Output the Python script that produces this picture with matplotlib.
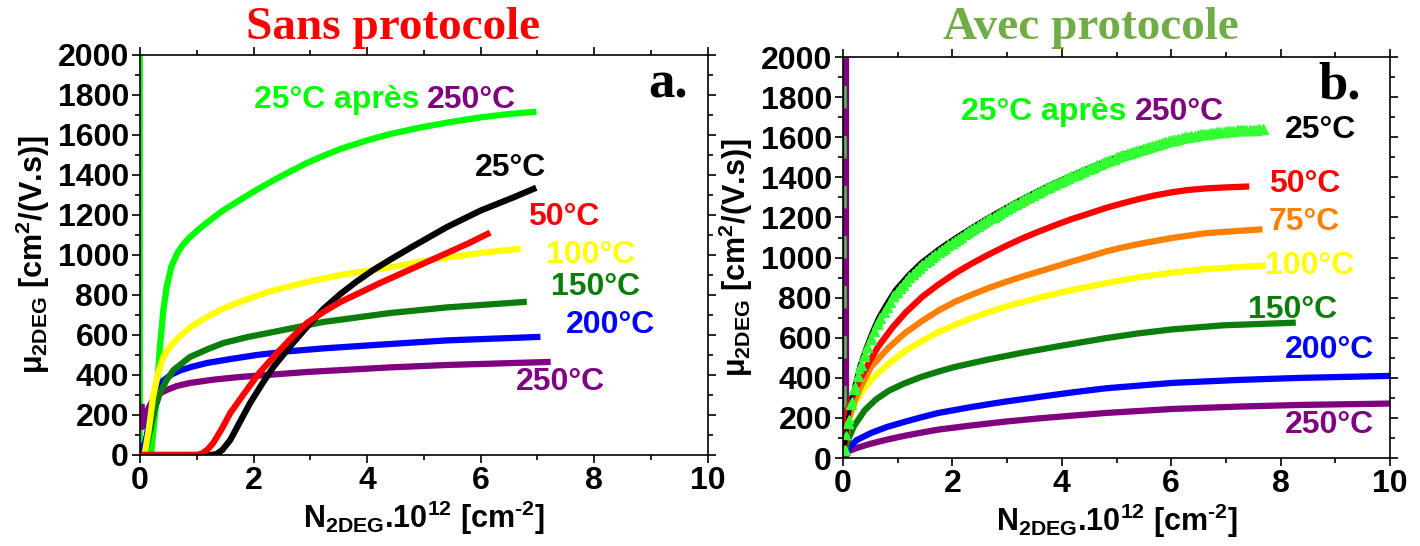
import numpy as np
import matplotlib
matplotlib.use("Agg")
import matplotlib.pyplot as plt
from matplotlib.ticker import MultipleLocator

plt.rcParams['font.family'] = ['Liberation Sans', 'DejaVu Sans']
plt.rcParams['font.weight'] = 'bold'
plt.rcParams['axes.labelweight'] = 'bold'
plt.rcParams['mathtext.fontset'] = 'custom'
plt.rcParams['mathtext.rm'] = 'Liberation Sans:bold'
plt.rcParams['mathtext.bf'] = 'Liberation Sans:bold'
plt.rcParams['mathtext.it'] = 'Liberation Sans:bold'
plt.rcParams['mathtext.default'] = 'bf'

# ---- panel a : sans protocole ----
a_vert_x = [0.02, 0.02]
a_vert_y = [0, 2000]
a_green_x = [0.1, 0.2, 0.28, 0.35, 0.41, 0.47, 0.55, 0.65, 0.75, 0.88, 1.0, 1.18, 1.45, 1.76, 2.05, 2.35,
             2.65, 2.94, 3.25, 3.53, 4.0, 4.41, 4.9, 5.41, 6.0, 6.5, 6.93]
a_green_y = [0, 20, 250, 540, 720, 840, 940, 1005, 1050, 1090, 1120, 1162, 1220, 1275, 1325, 1373,
             1418, 1460, 1498, 1530, 1573, 1605, 1635, 1662, 1688, 1705, 1715]
a_black_x = [0.1, 1.25, 1.35, 1.45, 1.59, 1.75, 1.94, 2.15, 2.35, 2.65, 2.94, 3.23, 3.53, 3.82, 4.11,
             4.41, 4.82, 5.41, 6.0, 6.58, 6.93]
a_black_y = [0, 0, 5, 25, 75, 160, 260, 355, 440, 545, 640, 730, 805, 868, 925,
             977, 1045, 1140, 1222, 1288, 1330]
a_red_x = [0.03, 1.0, 1.1, 1.2, 1.29, 1.45, 1.59, 1.88, 2.1, 2.35, 2.65, 2.94, 3.23, 3.53, 3.9, 4.23,
           4.82, 5.41, 5.8, 6.12]
a_red_y = [0, 0, 8, 30, 60, 135, 210, 325, 410, 490, 580, 660, 715, 765, 815, 860,
           935, 1010, 1060, 1105]
a_yellow_x = [0.08, 0.15, 0.23, 0.32, 0.41, 0.55, 0.71, 0.9, 1.18, 1.45, 1.76, 2.05, 2.35, 2.94, 3.53,
              4.41, 5.11, 6.0, 6.65]
a_yellow_y = [0, 120, 290, 410, 490, 550, 595, 642, 690, 730, 765, 795, 823, 865, 900,
              938, 975, 1010, 1030]
a_dgreen_x = [0.08, 0.18, 0.26, 0.35, 0.47, 0.59, 0.88, 1.2, 1.47, 1.9, 2.35, 3.23, 4.41, 5.41, 6.76]
a_dgreen_y = [0, 125, 230, 310, 375, 425, 490, 530, 560, 590, 615, 665, 710, 738, 765]
a_blue_x = [0.02, 0.06, 0.12, 0.18, 0.23, 0.3, 0.41, 0.55, 0.71, 0.9, 1.18, 1.6, 2.06, 2.6, 3.23,
            4.41, 5.41, 7.0]
a_blue_y = [40, 20, 100, 200, 275, 330, 372, 402, 423, 440, 460, 480, 500, 518, 533,
            555, 573, 590]
a_purple_x = [0.03, 0.04, 0.08, 0.15, 0.23, 0.33, 0.47, 0.65, 0.88, 1.3, 1.76, 2.94, 4.41, 5.41, 7.18]
a_purple_y = [240, 140, 170, 235, 275, 305, 325, 345, 360, 377, 390, 415, 438, 450, 465]

# ---- panel b : avec protocole ----
b_vert_x = [0.05, 0.05]
b_vert_y = [0, 2000]
b_black_x = [0.03, 0.06, 0.1, 0.16, 0.22, 0.3, 0.4, 0.52, 0.64, 0.8, 0.95, 1.2, 1.43, 1.75, 2.05, 2.35,
             2.66, 3.0, 3.27, 3.58, 3.89, 4.18, 4.5, 4.8, 5.1, 5.41, 5.7, 6.02, 6.3, 6.64, 7.0, 7.3]
b_black_y = [50, 130, 210, 300, 375, 460, 540, 625, 700, 775, 840, 918, 978, 1045, 1100, 1152,
             1203, 1255, 1295, 1338, 1378, 1413, 1450, 1483, 1513, 1540, 1563, 1585, 1601, 1615, 1625, 1630]
b_tri_x = [0.03, 0.06, 0.1, 0.16, 0.22, 0.3, 0.4, 0.52, 0.64, 0.8, 0.95, 1.2, 1.43, 1.75, 2.05, 2.35,
           2.66, 3.0, 3.27, 3.58, 3.89, 4.18, 4.5, 4.8, 5.1, 5.41, 5.7, 6.02, 6.3, 6.64, 7.0, 7.3, 7.67]
b_tri_y = [40, 115, 195, 285, 360, 445, 520, 605, 680, 755, 820, 898, 960, 1028, 1085, 1138,
           1190, 1243, 1285, 1328, 1370, 1405, 1443, 1478, 1510, 1538, 1562, 1585, 1603, 1618, 1630, 1636, 1640]
b_red_x = [0.03, 0.09, 0.2, 0.33, 0.48, 0.64, 0.9, 1.14, 1.45, 1.74, 2.05, 2.35, 2.66, 2.97, 3.27, 3.58,
           3.94, 4.18, 4.5, 4.8, 5.1, 5.41, 5.7, 6.02, 6.3, 6.64, 7.0, 7.37]
b_red_y = [60, 240, 330, 405, 480, 555, 650, 725, 805, 865, 922, 970, 1015, 1057, 1095, 1130,
           1168, 1192, 1220, 1247, 1270, 1292, 1310, 1326, 1337, 1345, 1350, 1354]
b_orange_x = [0.03, 0.09, 0.2, 0.33, 0.51, 0.83, 1.14, 1.45, 1.74, 2.05, 2.35, 2.66, 2.97, 3.27, 3.58,
              3.94, 4.18, 4.5, 4.8, 5.1, 5.41, 6.02, 6.64, 7.61]
b_orange_y = [60, 180, 280, 360, 455, 550, 625, 685, 735, 780, 815, 848, 878, 905, 930,
              960, 980, 1005, 1030, 1050, 1068, 1098, 1122, 1140]
b_yellow_x = [0.02, 0.08, 0.22, 0.35, 0.51, 0.83, 1.14, 1.45, 1.74, 2.05, 2.35, 2.66, 2.97, 3.58, 4.18,
              4.8, 5.41, 6.02, 6.64, 7.67]
b_yellow_y = [60, 170, 275, 335, 390, 470, 535, 585, 628, 665, 698, 728, 755, 800, 838,
              872, 902, 925, 943, 960]
b_dgreen_x = [0.03, 0.09, 0.2, 0.4, 0.6, 0.83, 1.1, 1.43, 1.75, 2.05, 2.66, 3.27, 3.94, 4.8, 5.4, 6.02,
              6.94, 8.22]
b_dgreen_y = [30, 90, 160, 240, 292, 335, 370, 405, 432, 455, 492, 525, 558, 598, 622, 642,
              662, 675]
b_blue_x = [0.0, 0.02, 0.05, 0.1, 0.25, 0.51, 0.8, 1.14, 1.45, 1.74, 2.35, 2.97, 3.58, 4.2, 4.8, 6.02,
            7.25, 8.35, 10.0]
b_blue_y = [160, 40, 25, 50, 90, 125, 155, 182, 205, 225, 255, 282, 305, 328, 348, 375,
            390, 400, 410]
b_purple_x = [0.05, 0.1, 0.3, 0.51, 0.8, 1.14, 1.45, 1.74, 2.35, 2.97, 3.58, 4.2, 4.8, 6.02, 7.25, 8.35, 10.0]
b_purple_y = [20, 35, 55, 72, 92, 112, 128, 142, 163, 182, 198, 212, 225, 245, 257, 265, 272]

c_green = '#00FF00'
c_dgreen = '#0A7D0A'
c_purple = '#800080'
c_yellow = '#FFFF00'
c_orange = '#FF8000'

fig = plt.figure(figsize=(14.2, 5.46), dpi=100)
ax1 = fig.add_axes([0.0986, 0.1667, 0.3997, 0.7326])
ax2 = fig.add_axes([0.5937, 0.161, 0.3852, 0.7345])

lw = 4.5
ax1.plot(a_vert_x, a_vert_y, color=c_green, lw=2)
ax1.plot(a_green_x, a_green_y, color=c_green, lw=lw)
ax1.plot(a_purple_x, a_purple_y, color=c_purple, lw=lw)
ax1.plot(a_blue_x, a_blue_y, color='blue', lw=lw)
ax1.plot(a_dgreen_x, a_dgreen_y, color=c_dgreen, lw=lw)
ax1.plot(a_yellow_x, a_yellow_y, color=c_yellow, lw=lw)
ax1.plot(a_black_x, a_black_y, color='black', lw=lw)
ax1.plot(a_red_x, a_red_y, color='red', lw=lw)

ax2.plot(b_vert_x, b_vert_y, color=c_purple, lw=4.5)
ax2.plot([v - 0.02 for v in b_vert_x], b_vert_y, color='#4CC24C', lw=1.8, ls=(0, (9, 11)))
ax2.plot(b_purple_x, b_purple_y, color=c_purple, lw=lw)
ax2.plot(b_blue_x, b_blue_y, color='blue', lw=lw)
ax2.plot(b_dgreen_x, b_dgreen_y, color=c_dgreen, lw=lw)
ax2.plot(b_yellow_x, b_yellow_y, color=c_yellow, lw=lw)
ax2.plot(b_orange_x, b_orange_y, color=c_orange, lw=lw)
ax2.plot(b_red_x, b_red_y, color='red', lw=lw)
ax2.plot(b_black_x, b_black_y, color='black', lw=3)
ax2.plot(b_tri_x, b_tri_y, color='#33FF33', lw=0, marker='^', ms=6)
tx = np.linspace(b_tri_x[0], b_tri_x[-1], 130)
ax2.plot(tx, np.interp(tx, b_tri_x, b_tri_y), color='#33FF33', lw=0,
         marker='^', ms=6.5)

fs = 23
for ax in (ax1, ax2):
    ax.set_xlim(0, 10)
    ax.set_ylim(0, 2000)
    ax.xaxis.set_major_locator(MultipleLocator(2))
    ax.xaxis.set_minor_locator(MultipleLocator(1))
    ax.yaxis.set_major_locator(MultipleLocator(200))
    ax.yaxis.set_minor_locator(MultipleLocator(100))
    ax.tick_params(which='both', direction='out', top=True, right=True,
                   labelsize=fs, width=1.2, pad=2)
    ax.tick_params(which='major', length=6)
    ax.tick_params(which='minor', length=3.5)
    for sp in ax.spines.values():
        sp.set_linewidth(1.2)
    for lab in ax.get_xticklabels() + ax.get_yticklabels():
        lab.set_fontweight('bold')
    ax.set_xlabel(r'N$_{2DEG}$.10$^{12}$ [cm$^{\text{-2}}$]', fontsize=22, labelpad=2)
    ax.set_ylabel(r'μ$_{2DEG}$ [cm$^{2}$/(V.s)]', fontsize=22, labelpad=4)

lab_fs = 23
t = ax1.text(2.0, 1775, '25°C après', color=c_green, fontsize=lab_fs, va='center')
ax1.annotate('250°C', xy=(1, 0), xycoords=t, xytext=(6, 0),
             textcoords='offset points', color=c_purple, fontsize=lab_fs, va='bottom')
ax1.text(6.53, 1435, '25°C', color='black', fontsize=lab_fs, ha='center', va='center')
ax1.text(7.46, 1190, '50°C', color='red', fontsize=lab_fs, ha='center', va='center')
ax1.text(7.94, 1000, '100°C', color=c_yellow, fontsize=lab_fs, ha='center', va='center')
ax1.text(8.02, 840, '150°C', color=c_dgreen, fontsize=lab_fs, ha='center', va='center')
ax1.text(8.29, 650, '200°C', color='blue', fontsize=lab_fs, ha='center', va='center')
ax1.text(7.41, 365, '250°C', color=c_purple, fontsize=lab_fs, ha='center', va='center')
ax1.text(9.31, 1850, 'a.', color='black', fontsize=38, ha='center', va='center',
         family='Liberation Serif', fontweight='bold')

t2 = ax2.text(2.15, 1725, '25°C après', color=c_green, fontsize=lab_fs, va='center')
ax2.annotate('250°C', xy=(1, 0), xycoords=t2, xytext=(6, 0),
             textcoords='offset points', color=c_purple, fontsize=lab_fs, va='bottom')
ax2.text(8.72, 1636, '25°C', color='black', fontsize=lab_fs, ha='center', va='center')
ax2.text(8.44, 1367, '50°C', color='red', fontsize=lab_fs, ha='center', va='center')
ax2.text(8.44, 1177, '75°C', color=c_orange, fontsize=lab_fs, ha='center', va='center')
ax2.text(8.53, 958, '100°C', color=c_yellow, fontsize=lab_fs, ha='center', va='center')
ax2.text(8.22, 738, '150°C', color=c_dgreen, fontsize=lab_fs, ha='center', va='center')
ax2.text(8.9, 539, '200°C', color='blue', fontsize=lab_fs, ha='center', va='center')
ax2.text(8.9, 165, '250°C', color=c_purple, fontsize=lab_fs, ha='center', va='center')
ax2.text(9.08, 1860, 'b.', color='black', fontsize=38, ha='center', va='center',
         family='Liberation Serif', fontweight='bold')

fig.text(0.277, 0.949, 'Sans protocole', color='red', fontsize=34, ha='center',
         va='center', family='Liberation Serif', fontweight='bold')
fig.text(0.768, 0.949, 'Avec protocole', color='#70AD47', fontsize=34, ha='center',
         va='center', family='Liberation Serif', fontweight='bold')

fig.savefig('out.png', dpi=100)
